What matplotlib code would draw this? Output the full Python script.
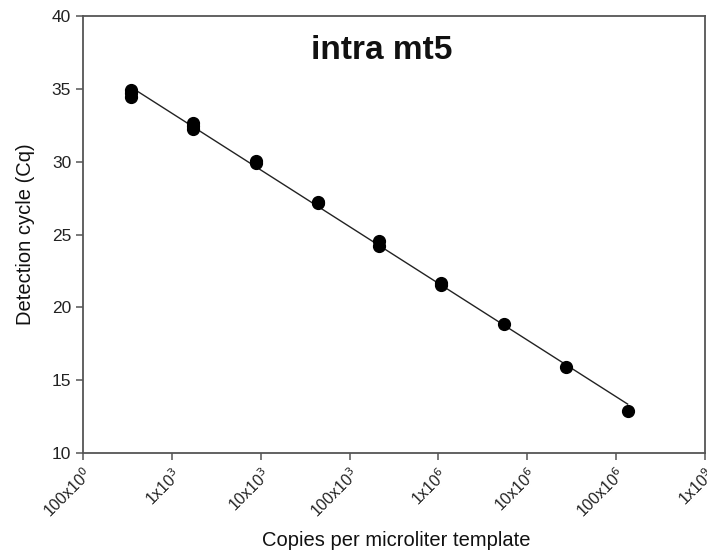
import numpy as np
import matplotlib
matplotlib.use("Agg")
import matplotlib.pyplot as plt

plt.rcParams['font.family'] = ['Liberation Sans', 'DejaVu Sans']

# Standard curve data (copies per microliter vs Cq)
copies = [3.5e2, 3.5e2, 3.5e2,
          1.75e3, 1.75e3, 1.75e3,
          8.9e3, 8.9e3,
          4.4e4, 4.4e4,
          2.15e5, 2.15e5,
          1.07e6, 1.07e6,
          5.5e6,
          2.7e7,
          1.35e8]
cq = [34.95, 34.7, 34.45,
      32.65, 32.45, 32.25,
      30.05, 29.9,
      27.25, 27.15,
      24.55, 24.2,
      21.7, 21.5,
      18.85,
      15.9,
      12.85]

tick_vals = [1e2, 1e3, 1e4, 1e5, 1e6, 1e7, 1e8, 1e9]
tick_labels = ["100x10$^0$", "1x10$^3$", "10x10$^3$", "100x10$^3$",
               "1x10$^6$", "10x10$^6$", "100x10$^6$", "1x10$^9$"]


def main():
    fig = plt.figure(figsize=(7.07, 5.54), dpi=100)
    ax = fig.add_axes([0.1174, 0.1823, 0.8796, 0.7888])

    x = np.array(copies)
    y = np.array(cq)
    ax.plot(x, y, 'o', color='black', markersize=8.5, zorder=3)

    # regression line across the data range
    slope, intercept = np.polyfit(np.log10(x), y, 1)
    xl = np.array([x.min(), x.max()])
    ax.plot(xl, slope * np.log10(xl) + intercept, color='#222222', lw=1.0, zorder=2)

    ax.set_xscale('log')
    ax.set_xlim(1e2, 1e9)
    ax.set_ylim(10, 40)
    ax.set_xticks(tick_vals)
    ax.set_xticklabels(tick_labels)
    ax.xaxis.set_minor_locator(matplotlib.ticker.NullLocator())
    ax.set_yticks([10, 15, 20, 25, 30, 35, 40])

    for s in ax.spines.values():
        s.set_color('#555555')
        s.set_linewidth(1.3)
    ax.tick_params(direction='out', length=5, width=1.1, color='#555555',
                   labelsize=11.5, labelcolor='#222222')
    ax.tick_params(axis='y', labelsize=12.5)
    plt.setp(ax.get_xticklabels(), rotation=45, ha='right', rotation_mode='anchor')

    fig.text(0.56, 1 - 541 / 554, "Copies per microliter template", fontsize=14.5,
             color='#111111', ha='center', va='center')
    ax.set_ylabel("Detection cycle (Cq)", fontsize=14.5, color='#111111', labelpad=12)
    ax.text(0.48, 0.92, "intra mt5", transform=ax.transAxes, ha='center', va='center',
            fontsize=24, fontweight='bold', color='#111111')

    fig.savefig("out.png", dpi=100)


if __name__ == "__main__":
    main()
